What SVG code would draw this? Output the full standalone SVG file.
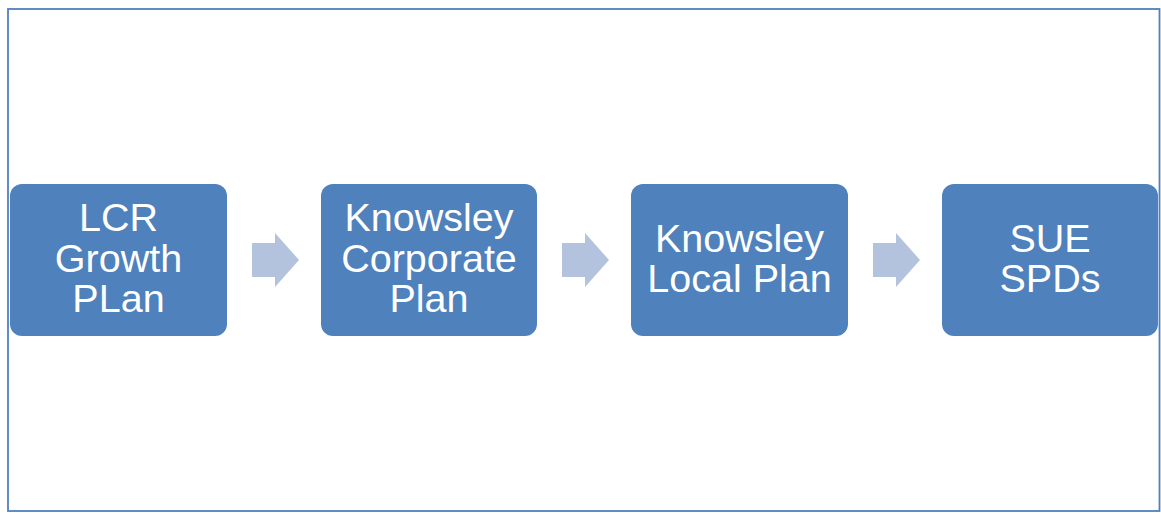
<svg xmlns="http://www.w3.org/2000/svg" width="1161" height="513" viewBox="0 0 1161 513">
<style>
.box{fill:#4f81bd}
.arr{fill:#b3c2dd}
.t{font-family:"Liberation Sans",Arial,sans-serif;font-size:39.5px;fill:#ffffff;text-anchor:middle}
</style>
<rect x="0" y="0" width="1161" height="513" fill="#ffffff"/>
<rect x="8" y="9" width="1151.5" height="502" fill="none" stroke="#4f81bd" stroke-width="1.8"/>
<g id="connectors">
<polygon class="arr" points="252,243 275,243 275,233 299,260 275,287 275,277 252,277"/>
<polygon class="arr" points="562,243 585,243 585,233 609,260 585,287 585,277 562,277"/>
<polygon class="arr" points="873,243 896,243 896,233 920,260 896,287 896,277 873,277"/>
</g>
<g id="n1">
<rect class="box" x="10" y="184" width="217" height="152" rx="12"/>
<text class="t" x="118.5" y="231">LCR</text>
<text class="t" x="118.5" y="272">Growth</text>
<text class="t" x="118.5" y="312">PLan</text>
</g>
<g id="n2">
<rect class="box" x="321" y="184" width="216" height="152" rx="12"/>
<text class="t" x="429" y="231">Knowsley</text>
<text class="t" x="429" y="272">Corporate</text>
<text class="t" x="429" y="312">Plan</text>
</g>
<g id="n3">
<rect class="box" x="631" y="184" width="217" height="152" rx="12"/>
<text class="t" x="739.5" y="252">Knowsley</text>
<text class="t" x="739.5" y="292">Local Plan</text>
</g>
<g id="n4">
<rect class="box" x="942" y="184" width="216" height="152" rx="12"/>
<text class="t" x="1050" y="252">SUE</text>
<text class="t" x="1050" y="292">SPDs</text>
</g>
</svg>
